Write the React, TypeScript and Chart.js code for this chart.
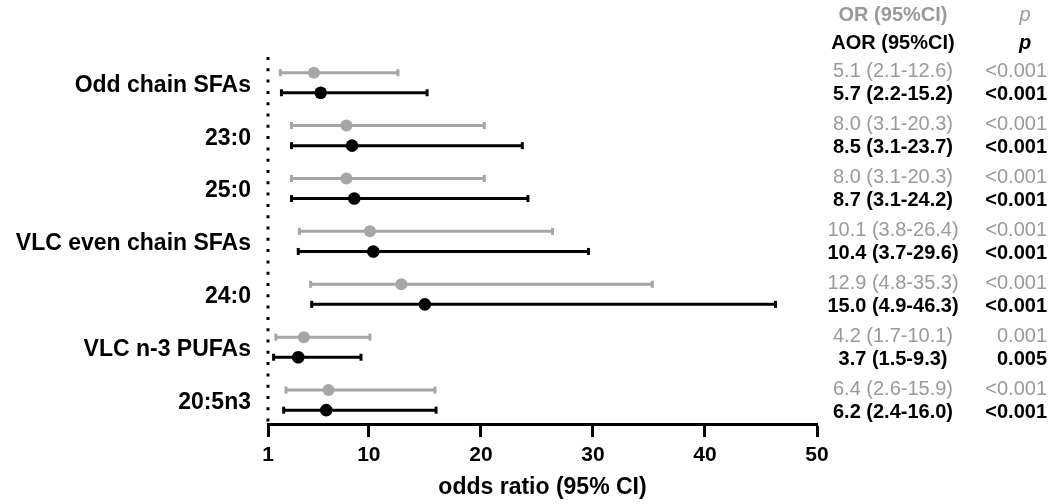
import React, { useEffect, useRef } from "react";
import { Chart, registerables } from "chart.js";

Chart.register(...registerables);

const categories = [
  "Odd chain SFAs",
  "23:0",
  "25:0",
  "VLC even chain SFAs",
  "24:0",
  "VLC n-3 PUFAs",
  "20:5n3",
];
const orValues = [5.1, 8.0, 8.0, 10.1, 12.9, 4.2, 6.4];
const orLower = [2.1, 3.1, 3.1, 3.8, 4.8, 1.7, 2.6];
const orUpper = [12.6, 20.3, 20.3, 26.4, 35.3, 10.1, 15.9];
const orP = ["<0.001", "<0.001", "<0.001", "<0.001", "<0.001", "0.001", "<0.001"];
const aorValues = [5.7, 8.5, 8.7, 10.4, 15.0, 3.7, 6.2];
const aorLower = [2.2, 3.1, 3.1, 3.7, 4.9, 1.5, 2.4];
const aorUpper = [15.2, 23.7, 24.2, 29.6, 46.3, 9.3, 16.0];
const aorP = ["<0.001", "<0.001", "<0.001", "<0.001", "<0.001", "0.005", "<0.001"];
const xTicks = [1, 10, 20, 30, 40, 50];
const headerOR = "OR (95%CI)";
const headerAOR = "AOR (95%CI)";
const headerP = "p";
const xTitle = "odds ratio (95% CI)";

const FAM = "'Liberation Sans', Arial, Helvetica, sans-serif";
const GRAY = "#a6a6a6";
const GRAY_TEXT = "#9a9a9a";
const BLACK = "#000000";
const OFF = 0.19;
const CI_X = 893;
const P_X = 1047;
const P_HEAD_X = 1025;

const fmt = (v: number, l: number, h: number) =>
  `${v.toFixed(1)} (${l.toFixed(1)}-${h.toFixed(1)})`;

const annotations = {
  id: "annotations",
  beforeDatasetsDraw(chart: any) {
    const { ctx, chartArea, scales } = chart;
    const px = scales.x.getPixelForValue(1);
    ctx.save();
    ctx.strokeStyle = BLACK;
    ctx.lineWidth = 3;
    ctx.setLineDash([3, 8.3]);
    ctx.beginPath();
    ctx.moveTo(px, chartArea.top);
    ctx.lineTo(px, chartArea.bottom);
    ctx.stroke();
    ctx.restore();
  },
  afterDraw(chart: any) {
    const { ctx, scales } = chart;
    const y = scales.y;
    ctx.save();
    ctx.textBaseline = "middle";
    // headers
    ctx.textAlign = "center";
    ctx.fillStyle = GRAY_TEXT;
    ctx.font = `bold 20px ${FAM}`;
    ctx.fillText(headerOR, CI_X, 15);
    ctx.font = `italic 20px ${FAM}`;
    ctx.fillText(headerP, P_HEAD_X, 15);
    ctx.fillStyle = BLACK;
    ctx.font = `bold 20px ${FAM}`;
    ctx.fillText(headerAOR, CI_X, 43);
    ctx.font = `italic bold 20px ${FAM}`;
    ctx.fillText(headerP, P_HEAD_X, 43);

    categories.forEach((_, i) => {
      const yg = y.getPixelForValue(i - OFF) - 1;
      const yb = y.getPixelForValue(i + OFF) + 2;
      ctx.fillStyle = GRAY_TEXT;
      ctx.font = `20px ${FAM}`;
      ctx.textAlign = "center";
      ctx.fillText(fmt(orValues[i], orLower[i], orUpper[i]), CI_X, yg);
      ctx.textAlign = "right";
      ctx.fillText(orP[i], P_X, yg);
      ctx.fillStyle = BLACK;
      ctx.font = `bold 20px ${FAM}`;
      ctx.textAlign = "center";
      ctx.fillText(fmt(aorValues[i], aorLower[i], aorUpper[i]), CI_X, yb);
      ctx.textAlign = "right";
      ctx.fillText(aorP[i], P_X, yb);
    });
    ctx.restore();
  },
};

export default function App() {
  const ref = useRef<HTMLCanvasElement | null>(null);

  useEffect(() => {
    if (!ref.current) return;

    const ciDatasets: any[] = [];
    categories.forEach((_, i) => {
      ciDatasets.push({
        label: `OR CI ${i}`,
        data: [
          { x: orLower[i], y: i - OFF },
          { x: orUpper[i], y: i - OFF },
        ],
        showLine: true,
        borderColor: GRAY,
        borderWidth: 3,
        pointStyle: "line",
        rotation: 90,
        pointRadius: 3.5,
        pointBorderWidth: 3,
        pointBorderColor: GRAY,
        pointBackgroundColor: GRAY,
        order: 2,
      });
      ciDatasets.push({
        label: `AOR CI ${i}`,
        data: [
          { x: aorLower[i], y: i + OFF },
          { x: aorUpper[i], y: i + OFF },
        ],
        showLine: true,
        borderColor: BLACK,
        borderWidth: 3,
        pointStyle: "line",
        rotation: 90,
        pointRadius: 3.5,
        pointBorderWidth: 3,
        pointBorderColor: BLACK,
        pointBackgroundColor: BLACK,
        order: 2,
      });
    });

    const chart = new Chart(ref.current, {
      type: "scatter",
      data: {
        datasets: [
          {
            label: "OR",
            data: categories.map((_, i) => ({ x: orValues[i], y: i - OFF })),
            pointRadius: 6,
            pointBackgroundColor: GRAY,
            pointBorderColor: GRAY,
            pointBorderWidth: 0,
            showLine: false,
            order: 0,
          },
          {
            label: "AOR",
            data: categories.map((_, i) => ({ x: aorValues[i], y: i + OFF })),
            pointRadius: 6.3,
            pointBackgroundColor: BLACK,
            pointBorderColor: BLACK,
            pointBorderWidth: 0,
            showLine: false,
            order: 0,
          },
          ...ciDatasets,
        ],
      },
      options: {
        responsive: false,
        animation: false,
        devicePixelRatio: 1,
        layout: { padding: { top: 57, right: 233, bottom: 0, left: 0 } },
        plugins: {
          legend: { display: false },
          tooltip: { enabled: false },
        },
        scales: {
          x: {
            type: "linear",
            min: 1,
            max: 50,
            afterBuildTicks: (s: any) => {
              s.ticks = xTicks.map((v) => ({ value: v }));
            },
            afterFit: (s: any) => {
              s.height = 80;
            },
            ticks: {
              color: BLACK,
              font: { family: FAM, size: 21, weight: "bold" },
              padding: 6,
              maxRotation: 0,
              autoSkip: false,
            },
            grid: {
              drawOnChartArea: false,
              drawTicks: true,
              tickLength: 13,
              tickWidth: 3,
              tickColor: BLACK,
            },
            border: { display: true, color: BLACK, width: 3 },
            title: {
              display: true,
              text: xTitle,
              color: BLACK,
              font: { family: FAM, size: 23, weight: "bold" },
              padding: { top: 0, bottom: 3 },
            },
          },
          y: {
            type: "linear",
            reverse: true,
            min: -0.486,
            max: 6.452,
            afterBuildTicks: (s: any) => {
              s.ticks = categories.map((_, i) => ({ value: i + 0.05 }));
            },
            afterFit: (s: any) => {
              s.width = 268;
            },
            ticks: {
              color: BLACK,
              font: { family: FAM, size: 23, weight: "bold" },
              padding: 17,
              autoSkip: false,
              callback: (_v: any, idx: number) => categories[idx],
            },
            grid: { display: false, drawTicks: false },
            border: { display: false },
          },
        },
      } as any,
      plugins: [annotations],
    });

    return () => chart.destroy();
  }, []);

  return (
    <div style={{ position: "absolute", left: 0, top: 0, width: 1050, height: 504, background: "#fff" }}>
      <canvas ref={ref} width={1050} height={504} style={{ display: "block" }} />
    </div>
  );
}
